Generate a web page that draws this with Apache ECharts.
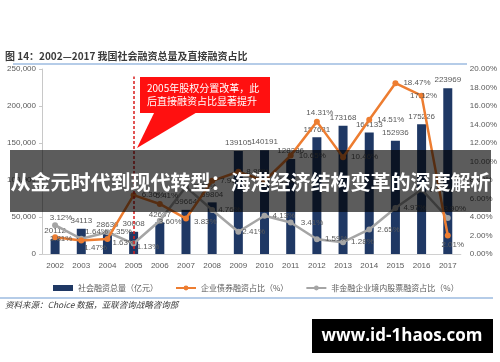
<!DOCTYPE html>
<html>
<head>
<meta charset="utf-8">
<script src="https://cdn.jsdelivr.net/npm/echarts@6/dist/echarts.min.js"></script>
<style>
html, body { margin: 0; padding: 0; background: #fff; }
#chart { width: 500px; height: 362px; }
</style>
</head>
<body>
<div id="chart"></div>
<script>
// Social financing totals (100 million yuan) and direct-financing shares, 2002-2017
const years = ['2002', '2003', '2004', '2005', '2006', '2007', '2008', '2009',
               '2010', '2011', '2012', '2013', '2014', '2015', '2016', '2017'];
const totalFinancing = [20112, 34113, 28630, 30008, 42697, 59664, 69804, 139105,
                        140191, 128286, 157631, 173168, 164133, 152936, 175226, 223969];
const bondShare = [1.81, 1.47, 1.63, 6.36, 5.41, 3.83, 7.91, 8.89,
                   7.89, 10.65, 14.31, 10.46, 14.51, 18.47, 17.12, 2.01];
const equityShare = [3.12, 1.64, 2.35, 1.13, 3.60, 7.26, 4.76, 2.41,
                     4.13, 3.41, 1.59, 1.28, 2.65, 4.97, 6.97, 3.90];
const leftAxisMax = 250000;
const leftAxisStep = 50000;
const rightAxisMax = 20;
const rightAxisStep = 2;
const seriesNames = ['社会融资总量（亿元）', '企业债券融资占比（%）', '非金融企业境内股票融资占比（%）'];
const reformYear = '2005';

// label placement per point: [position, dx, dy]
const bondLabelPlace = [
  ['inside', 6, 2], ['right', -5, 7], ['right', -3, 4], ['right', 0, 0],
  ['top', 7, 4], ['right', 0, 3], ['right', 0, 0], ['right', 0, 0],
  ['right', 0, 0], ['right', 0, 0], ['top', 3, 3], ['right', 0, 0],
  ['right', 0, 0], ['right', 0, 0], ['inside', 2, 0], ['bottom', 5, -3]
];
const equityLabelPlace = [
  ['top', 6, 5], ['right', -4, -7], ['right', -6, 0], ['right', -5, 3],
  ['right', -9, 1], ['right', 0, 0], ['right', -2, 0], ['right', -4, 0],
  ['right', 0, 0], ['right', 2, 0], ['right', 0, 0], ['right', 0, 0],
  ['right', 0, 0], ['right', 0, 0], ['right', 0, 0], ['top', 7, 3]
];

const NAVY = '#1f3864';
const ORANGE = '#ed7d31';
const GREY = '#a5a5a5';
const TEXT = '#595959';
const NUM_FONT = 'Liberation Sans, Arial, sans-serif';
const CJK_FONT = 'Noto Sans CJK SC, sans-serif';

function pctPoints(values, places) {
  return values.map((v, i) => ({
    value: v,
    label: { position: places[i][0], offset: [places[i][1], places[i][2]] }
  }));
}

const chart = echarts.init(document.getElementById('chart'), null, { renderer: 'canvas' });

chart.setOption({
  animation: false,
  backgroundColor: '#ffffff',
  grid: { left: 42, right: 34, top: 69, bottom: 108 },
  legend: {
    left: 48, top: 279,
    itemWidth: 20, itemHeight: 6, itemGap: 17,
    textStyle: { fontFamily: CJK_FONT, fontSize: 8, color: TEXT },
    data: [
      { name: seriesNames[0], icon: 'rect', itemStyle: { color: NAVY } },
      { name: seriesNames[1] },
      { name: seriesNames[2] }
    ]
  },
  xAxis: {
    type: 'category',
    data: years,
    axisLine: { lineStyle: { color: '#d0d0d0', width: 1 } },
    axisTick: { show: false },
    axisLabel: { color: TEXT, fontFamily: NUM_FONT, fontSize: 8, margin: 8 }
  },
  yAxis: [
    {
      type: 'value', min: 0, max: leftAxisMax, interval: leftAxisStep,
      axisLine: { show: true, lineStyle: { color: '#c8c8c8' } },
      axisTick: { show: true, inside: false, length: 3, lineStyle: { color: '#c8c8c8' } },
      splitLine: { show: false },
      axisLabel: { color: TEXT, fontFamily: NUM_FONT, fontSize: 8, margin: 6 }
    },
    {
      type: 'value', min: 0, max: rightAxisMax, interval: rightAxisStep,
      position: 'right',
      axisLine: { show: false },
      axisTick: { show: false },
      splitLine: { show: false },
      axisLabel: {
        color: TEXT, fontFamily: NUM_FONT, fontSize: 8, margin: 9,
        formatter: v => v.toFixed(2) + '%'
      }
    }
  ],
  series: [
    {
      name: seriesNames[0],
      type: 'bar',
      data: totalFinancing,
      barWidth: 9,
      itemStyle: { color: NAVY },
      label: {
        show: true, position: 'top', distance: 4,
        color: TEXT, fontFamily: NUM_FONT, fontSize: 8
      },
      markLine: {
        silent: true,
        symbol: ['none', 'none'],
        label: { show: false },
        lineStyle: { color: '#d81e1e', type: [3, 2], width: 1.5 },
        data: [[{ coord: [reformYear, 0] }, { coord: [reformYear, 240000] }]]
      },
      z: 2
    },
    {
      name: seriesNames[1],
      type: 'line',
      yAxisIndex: 1,
      data: pctPoints(bondShare, bondLabelPlace),
      symbol: 'circle', symbolSize: 6,
      lineStyle: { color: ORANGE, width: 2.5 },
      itemStyle: { color: ORANGE },
      label: {
        show: true, color: TEXT, fontFamily: NUM_FONT, fontSize: 8,
        formatter: p => p.value.toFixed(2) + '%'
      },
      z: 4
    },
    {
      name: seriesNames[2],
      type: 'line',
      yAxisIndex: 1,
      data: pctPoints(equityShare, equityLabelPlace),
      symbol: 'circle', symbolSize: 6,
      lineStyle: { color: GREY, width: 2.5 },
      itemStyle: { color: GREY },
      label: {
        show: true, color: TEXT, fontFamily: NUM_FONT, fontSize: 8,
        formatter: p => p.value.toFixed(2) + '%'
      },
      z: 3
    }
  ],
  graphic: [
    // figure caption and rules
    {
      type: 'text', left: 5, top: 51, z: 50,
      style: {
        text: '图 14：2002—2017 我国社会融资总量及直接融资占比',
        fill: '#3a3a3a', font: 'bold 10px ' + CJK_FONT
      }
    },
    { type: 'line', z: 50, shape: { x1: 13, y1: 64, x2: 467, y2: 64 },
      style: { stroke: '#9dbbe0', lineWidth: 1.5 } },
    { type: 'line', z: 50, shape: { x1: 0, y1: 298, x2: 493, y2: 298 },
      style: { stroke: '#9dbbe0', lineWidth: 1.5 } },
    {
      type: 'text', left: 5, top: 301, z: 50,
      style: {
        text: '资料来源：Choice 数据，亚联咨询战略咨询部',
        fill: '#3a3a3a', font: 'italic 8.5px ' + CJK_FONT
      }
    },
    // reform callout
    { type: 'polygon', z: 60, shape: { points: [[155, 111], [199, 111], [137, 148]] },
      style: { fill: '#ff1010' } },
    { type: 'rect', z: 60, shape: { x: 140, y: 77, width: 130, height: 36 },
      style: { fill: '#ff1010' } },
    {
      type: 'text', z: 61, left: 147, top: 82,
      style: {
        text: '2005年股权分置改革，此\n后直接融资占比显著提升',
        fill: '#ffffff', font: '10px ' + CJK_FONT, lineHeight: 13
      }
    },
    // headline banner
    { type: 'rect', z: 100, shape: { x: 10, y: 150, width: 481, height: 62 },
      style: { fill: 'rgba(0,0,0,0.64)' } },
    {
      type: 'text', z: 101, x: 250.5, y: 182,
      style: {
        text: '从金元时代到现代转型：海港经济结构变革的深度解析',
        fill: '#ffffff', font: 'bold 20px ' + CJK_FONT,
        align: 'center', verticalAlign: 'middle'
      }
    },
    // site mark
    { type: 'rect', z: 100, shape: { x: 312, y: 319, width: 181, height: 34 },
      style: { fill: '#000000' } },
    {
      type: 'text', z: 101, x: 402, y: 336,
      style: {
        text: 'www.id-1haos.com',
        fill: '#ffffff', font: 'bold 17px Open Sans, sans-serif',
        align: 'center', verticalAlign: 'middle'
      }
    }
  ]
});
</script>
</body>
</html>
